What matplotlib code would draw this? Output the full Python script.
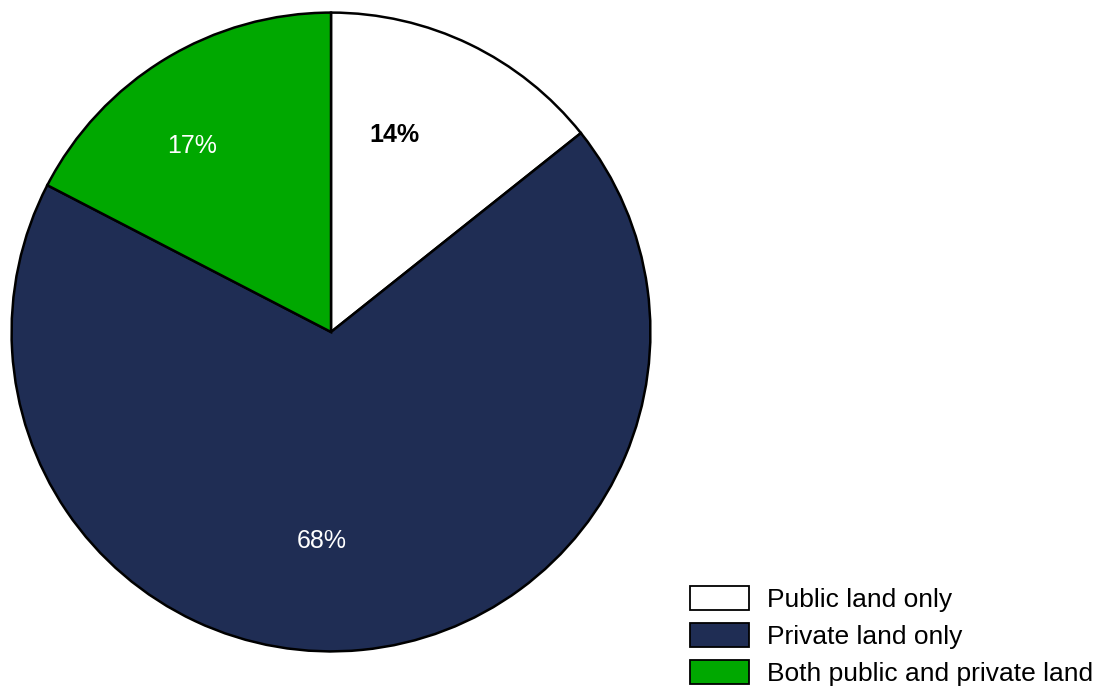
import matplotlib
matplotlib.use("Agg")
import matplotlib.pyplot as plt
import numpy as np

categories = ["Public land only", "Private land only", "Both public and private land"]
values = [14.3, 68.3, 17.4]
labels = ["14%", "68%", "17%"]
colors = ["#FFFFFF", "#1F2D54", "#00A800"]
label_colors = ["black", "white", "white"]
label_weights = ["bold", "normal", "normal"]
label_dist = [0.648, 0.654, 0.728]
label_angle_offset = [7.8, -8.0, 5.5]

plt.rcParams['font.family'] = ['Liberation Sans', 'DejaVu Sans']

fig = plt.figure(figsize=(11, 6.86), dpi=100)
W, H = 1100, 686
cx, cy, r = 331, 332, 321
ax = fig.add_axes([(cx - r) / W, (H - cy - r) / H, 2 * r / W, 2 * r / H])
wedges, _ = ax.pie(values, colors=colors, startangle=90, counterclock=False,
                   radius=1, wedgeprops=dict(edgecolor="black", linewidth=1.8))
ax.set_xlim(-1.005, 1.005)
ax.set_ylim(-1.005, 1.005)
ax.set_aspect("equal")
ax.axis("off")

for w, lab, c, fw, d, off in zip(wedges, labels, label_colors, label_weights,
                                 label_dist, label_angle_offset):
    ang = np.deg2rad((w.theta1 + w.theta2) / 2 + off)
    ax.text(d * np.cos(ang), d * np.sin(ang), lab, ha="center", va="center",
            color=c, fontsize=18, fontweight=fw)

leg = fig.legend(wedges, categories, loc="lower left",
                 bbox_to_anchor=(690 / W, 0), frameon=False,
                 fontsize=19, handlelength=2.24, handleheight=1.0,
                 handletextpad=0.68, labelspacing=0.42, borderpad=0,
                 borderaxespad=0)
for h in leg.legend_handles:
    h.set_linewidth(1.3)
    h.set_edgecolor("black")

fig.savefig("out.png", dpi=100)
